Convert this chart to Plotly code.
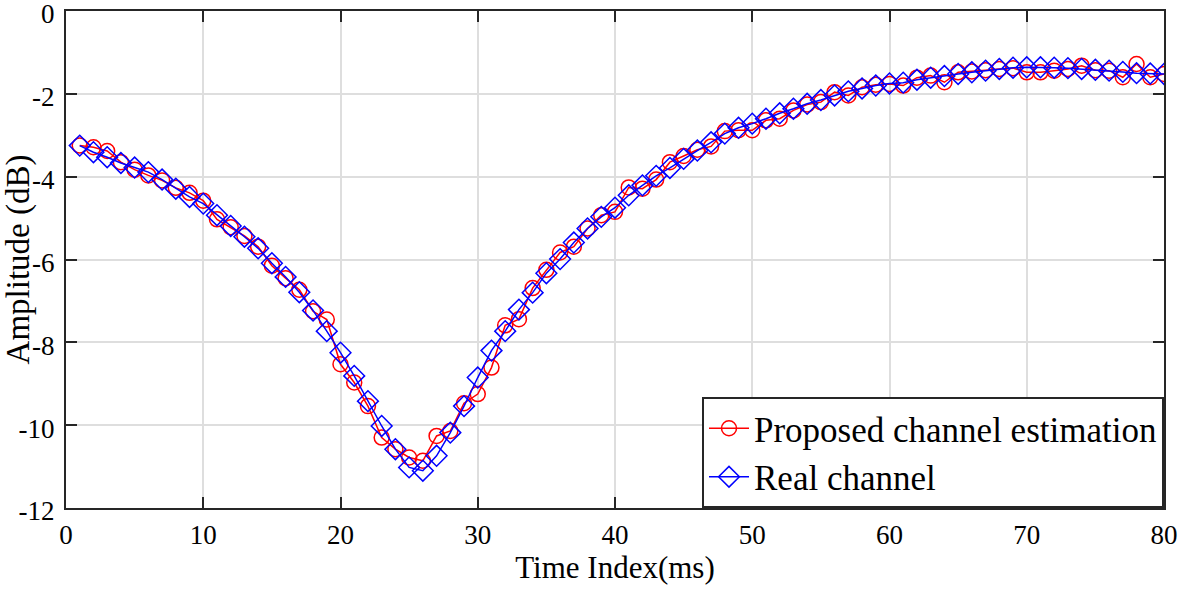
import plotly.graph_objects as go

time_index = list(range(1, 81))

proposed = [-3.25, -3.29, -3.38, -3.65, -3.83, -3.97, -4.09, -4.27, -4.39, -4.58,
            -5.03, -5.22, -5.43, -5.69, -6.15, -6.45, -6.73, -7.25, -7.45, -8.53,
            -8.97, -9.54, -10.30, -10.58, -10.78, -10.86, -10.26, -10.14, -9.47, -9.25,
            -8.61, -7.59, -7.44, -6.69, -6.25, -5.83, -5.69, -5.25, -4.93, -4.85,
            -4.26, -4.29, -4.07, -3.65, -3.50, -3.35, -3.27, -2.90, -2.88, -2.88,
            -2.64, -2.60, -2.40, -2.26, -2.20, -1.96, -2.04, -1.84, -1.78, -1.76,
            -1.80, -1.61, -1.56, -1.72, -1.48, -1.46, -1.43, -1.40, -1.38, -1.48,
            -1.48, -1.44, -1.40, -1.32, -1.43, -1.44, -1.60, -1.28, -1.60, -1.52]

real = [-3.25, -3.41, -3.53, -3.67, -3.78, -3.89, -4.07, -4.29, -4.49, -4.65,
        -4.93, -5.19, -5.45, -5.73, -6.09, -6.42, -6.79, -7.23, -7.73, -8.25,
        -8.81, -9.42, -10.02, -10.58, -11.02, -11.10, -10.74, -10.18, -9.54, -8.85,
        -8.20, -7.73, -7.21, -6.80, -6.33, -5.99, -5.59, -5.25, -4.97, -4.75,
        -4.45, -4.21, -3.98, -3.79, -3.57, -3.37, -3.17, -2.96, -2.82, -2.72,
        -2.60, -2.47, -2.36, -2.24, -2.15, -2.04, -1.94, -1.87, -1.80, -1.75,
        -1.73, -1.66, -1.61, -1.57, -1.52, -1.48, -1.44, -1.40, -1.37, -1.36,
        -1.36, -1.37, -1.38, -1.40, -1.42, -1.44, -1.47, -1.50, -1.51, -1.52]

x_ticks = [0, 10, 20, 30, 40, 50, 60, 70, 80]
x_ticktext = ["0", "10", "20", "30", "40", "50", "60", "70", "80"]
y_ticks = [0, -2, -4, -6, -8, -10, -12]
y_ticktext = ["0", "-2", "-4", "-6", "-8", "-10", "-12"]

FONT = "Liberation Serif"

fig = go.Figure()
fig.add_trace(go.Scatter(
    x=time_index, y=proposed, mode="lines+markers",
    name="Proposed channel estimation",
    line=dict(color="#ff0000", width=1.5),
    marker=dict(symbol="circle-open", size=15, color="#ff0000", line=dict(width=1.5)),
))
fig.add_trace(go.Scatter(
    x=time_index, y=real, mode="lines+markers",
    name="Real channel",
    line=dict(color="#0000ff", width=1.5),
    marker=dict(symbol="diamond-open", size=16, color="#0000ff", line=dict(width=1.5)),
))

axis_common = dict(
    showline=True, linecolor="#262626", linewidth=2, mirror="ticks",
    ticks="inside", ticklen=11, tickwidth=2, tickcolor="#262626",
    showgrid=True, gridcolor="#dedede", gridwidth=2,
    zeroline=False, automargin=False, ticklabeloverflow="allow",
    tickfont=dict(family=FONT, size=27, color="#000000"),
)

fig.update_xaxes(
    range=[0, 80], tickvals=x_ticks, ticktext=x_ticktext,
    title=dict(text="Time Index(ms)", font=dict(family=FONT, size=31, color="#000000"), standoff=3),
    ticklabelstandoff=2,
    **axis_common,
)
fig.update_yaxes(
    range=[-12, 0], tickvals=y_ticks, ticktext=y_ticktext,
    title=dict(text="Amplitude (dB)", font=dict(family=FONT, size=33, color="#000000"), standoff=2),
    ticklabelstandoff=4, ticklabelshift=3,
    **axis_common,
)

fig.update_layout(
    template="none",
    width=1181, height=591,
    margin=dict(l=66, r=17, t=11, b=83),
    paper_bgcolor="white", plot_bgcolor="white",
    font=dict(family=FONT, size=27, color="#000000"),
    showlegend=True,
    legend=dict(
        x=1, xanchor="right", y=0, yanchor="bottom",
        bgcolor="white", bordercolor="#262626", borderwidth=2,
        font=dict(family=FONT, size=35, color="#000000"),
        itemwidth=40, tracegroupgap=0,
    ),
)

fig.write_html(
    "out.html",
    config={"displayModeBar": False},
    post_script="document.body.style.margin='0';document.body.style.padding='0';",
)
